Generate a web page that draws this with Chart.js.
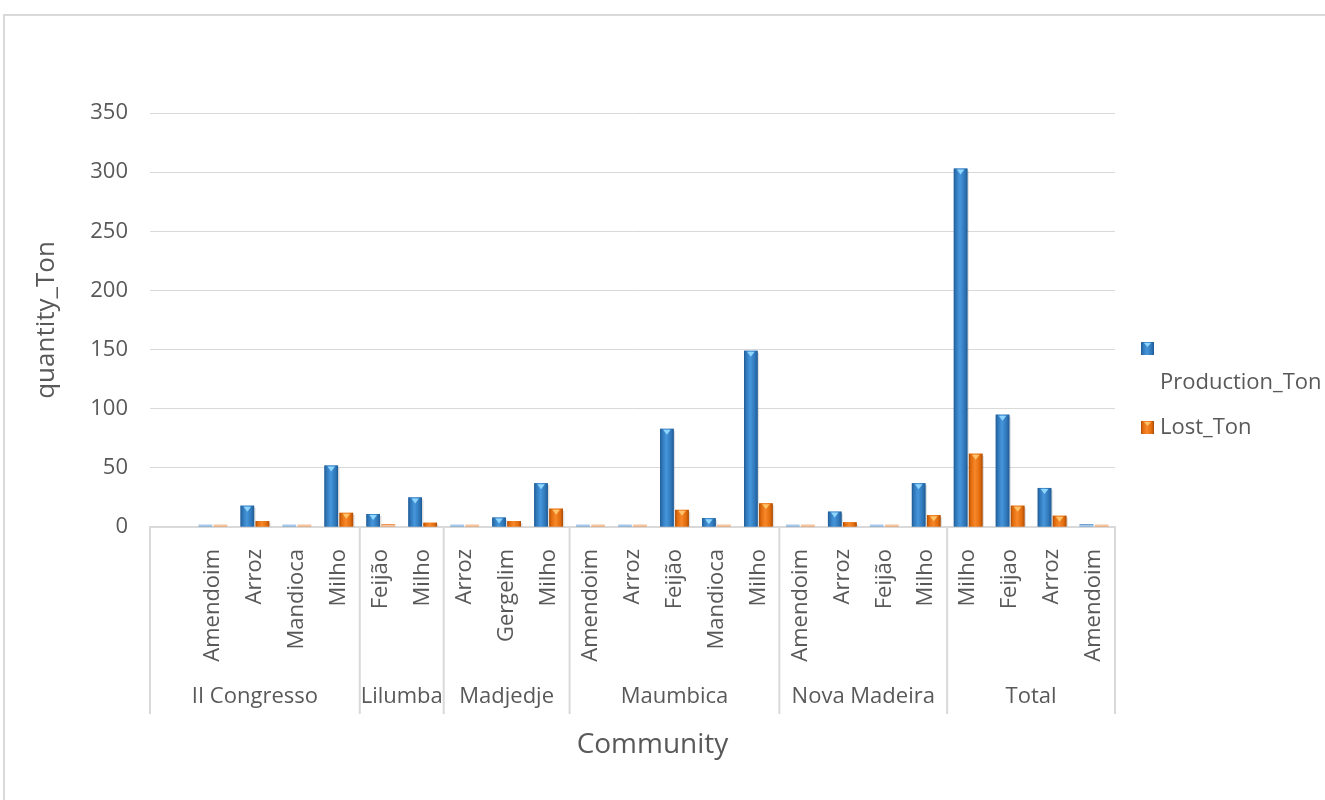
<!DOCTYPE html>
<html>
<head>
<meta charset="utf-8">
<script src="https://cdn.jsdelivr.net/npm/chart.js@4.4.1/dist/chart.umd.min.js"></script>
<style>
  html, body { margin: 0; padding: 0; background: #fff; overflow: hidden; }
  #frame { position: absolute; left: 3px; top: 14px; width: 1400px; height: 900px; border: 2px solid #d9d9d9; box-sizing: border-box; }
  #wrap { position: absolute; left: 0; top: 0; width: 1325px; height: 800px; }
</style>
</head>
<body>
<div id="frame"></div>
<div id="wrap"><canvas id="barChart" width="1325" height="800"></canvas></div>
<script>
// crops per community, first slot of II Congresso is empty
const crops = ['', 'Amendoim', 'Arroz', 'Mandioca', 'Milho',
  'Feijão', 'Milho',
  'Arroz', 'Gergelim', 'Milho',
  'Amendoim', 'Arroz', 'Feijão', 'Mandioca', 'Milho',
  'Amendoim', 'Arroz', 'Feijão', 'Milho',
  'Milho', 'Feijao', 'Arroz', 'Amendoim'];
const communities = ['II Congresso', 'Lilumba', 'Madjedje', 'Maumbica', 'Nova Madeira', 'Total'];
const communitySizes = [5, 2, 3, 5, 4, 4];

const productionTon = [null, 1, 18, 1, 52, 11, 25, 1, 8, 37, 1, 1, 83, 7.5, 149, 1, 13, 1, 37, 303, 95, 33, 2.5];
const lostTon = [null, 1, 5, 1, 12, 2.5, 3.6, 1, 5, 15.5, 1, 1, 14.5, 1, 20, 1, 4, 1, 10, 62, 18, 9.5, 1];

const yTicks = [0, 50, 100, 150, 200, 250, 300, 350];

const textGrey = '#595959';
const lineGrey = '#d9d9d9';
const font = '"Open Sans", "Noto Sans", sans-serif';

// edge / body / highlight colours for the bevelled bars
const shades = [
  { dark: '#1f5a94', mid: '#2e75b6', light: '#4696dc', cap: '#8fd6ff', pale: '#a8c8e8' },
  { dark: '#a94b05', mid: '#e06a0c', light: '#f7882a', cap: '#ffc46a', pale: '#f4c3a0' }
];

function bevelFill(ctx, l, w, s) {
  const g = ctx.createLinearGradient(l, 0, l + w, 0);
  g.addColorStop(0, s.dark);
  g.addColorStop(0.14, s.mid);
  g.addColorStop(0.45, s.light);
  g.addColorStop(0.82, s.mid);
  g.addColorStop(1, s.dark);
  return g;
}

const bevelBars = {
  id: 'bevelBars',
  afterDatasetsDraw(chart) {
    const ctx = chart.ctx;
    chart.data.datasets.forEach((ds, di) => {
      const s = shades[di];
      chart.getDatasetMeta(di).data.forEach((bar, i) => {
        if (ds.data[i] === null) return;
        const { x, y, base, width } = bar.getProps(['x', 'y', 'base', 'width'], true);
        if (!isFinite(y) || !isFinite(base)) return;
        const l = x - width / 2;
        const h = base - y;
        ctx.save();
        if (h < 3) {
          ctx.fillStyle = s.pale;
          ctx.fillRect(l, base - 2, width, 2);
          ctx.restore();
          return;
        }
        ctx.fillStyle = bevelFill(ctx, l, width, s);
        ctx.fillRect(l, y, width, h);
        // shadow on the right side
        ctx.fillStyle = 'rgba(0,0,0,0.12)';
        ctx.fillRect(l + width, y + 2, 1.5, h - 2);
        if (h > 7) {
          ctx.fillStyle = s.cap;
          ctx.beginPath();
          ctx.moveTo(l + width * 0.22, y + 1);
          ctx.lineTo(l + width * 0.78, y + 1);
          ctx.lineTo(x, y + Math.min(6, h - 1));
          ctx.closePath();
          ctx.fill();
        }
        ctx.restore();
      });
    });
  }
};

// second level of the category axis: separators, community names, axis title
const communityAxis = {
  id: 'communityAxis',
  afterDraw(chart) {
    const ctx = chart.ctx;
    const xs = chart.scales.x;
    const top = chart.chartArea.bottom;
    const bottom = 714;
    ctx.save();
    ctx.strokeStyle = lineGrey;
    ctx.lineWidth = 2;
    let idx = 0;
    const edges = [xs.getPixelForValue(-0.5)];
    communitySizes.forEach((n) => {
      idx += n;
      edges.push(xs.getPixelForValue(idx - 0.5));
    });
    edges.forEach((px) => {
      ctx.beginPath();
      ctx.moveTo(px, top);
      ctx.lineTo(px, bottom);
      ctx.stroke();
    });
    ctx.fillStyle = textGrey;
    ctx.font = '22px ' + font;
    ctx.textAlign = 'center';
    ctx.textBaseline = 'middle';
    communities.forEach((name, i) => {
      ctx.fillText(name, (edges[i] + edges[i + 1]) / 2, 697);
    });
    ctx.font = '28px ' + font;
    ctx.fillText('Community', (xs.left + xs.right) / 2 + 20, 745);
    ctx.restore();
  }
};

// legend on the right, long label wraps below its swatch
const sideLegend = {
  id: 'sideLegend',
  afterDraw(chart) {
    const ctx = chart.ctx;
    const names = chart.data.datasets.map((d) => d.label);
    ctx.save();
    ctx.font = '22px ' + font;
    ctx.textBaseline = 'middle';
    const boxes = [342, 421];
    boxes.forEach((by, i) => {
      ctx.fillStyle = bevelFill(ctx, 1141, 13, shades[i]);
      ctx.fillRect(1141, by, 13, 13);
      ctx.fillStyle = shades[i].cap;
      ctx.beginPath();
      ctx.moveTo(1144, by + 1);
      ctx.lineTo(1151, by + 1);
      ctx.lineTo(1147.5, by + 5);
      ctx.closePath();
      ctx.fill();
    });
    ctx.fillStyle = textGrey;
    ctx.fillText(names[0], 1160, 383);
    ctx.fillText(names[1], 1160, 428);
    ctx.restore();
  }
};

const ctx = document.getElementById('barChart').getContext('2d');
const barChart = new Chart(ctx, {
  type: 'bar',
  data: {
    labels: crops,
    datasets: [{
      label: 'Production_Ton',
      data: productionTon,
      backgroundColor: shades[0].mid,
      borderWidth: 0
    }, {
      label: 'Lost_Ton',
      data: lostTon,
      backgroundColor: shades[1].mid,
      borderWidth: 0
    }]
  },
  options: {
    responsive: false,
    animation: false,
    categoryPercentage: 0.72,
    barPercentage: 0.9,
    layout: { padding: { top: 113, right: 210, left: 0, bottom: 0 } },
    plugins: {
      legend: { display: false },
      tooltip: { enabled: false }
    },
    scales: {
      x: {
        grid: { display: false },
        border: { display: true, color: lineGrey, width: 2 },
        ticks: {
          autoSkip: false,
          minRotation: 90,
          maxRotation: 90,
          padding: 14,
          color: textGrey,
          font: { family: font, size: 22 }
        },
        afterFit(scale) { scale.height = 273; }
      },
      y: {
        min: 0,
        max: 350,
        afterBuildTicks(scale) { scale.ticks = yTicks.map((v) => ({ value: v })); },
        grid: { color: lineGrey, lineWidth: 1, drawTicks: false },
        border: { display: false },
        ticks: {
          padding: 22,
          color: textGrey,
          font: { family: font, size: 22 }
        },
        title: {
          display: true,
          text: 'quantity_Ton',
          color: textGrey,
          font: { family: font, size: 26 },
          padding: { top: 31, bottom: 0 }
        },
        afterFit(scale) { scale.width = 150; }
      }
    }
  },
  plugins: [bevelBars, communityAxis, sideLegend]
});
</script>
</body>
</html>
